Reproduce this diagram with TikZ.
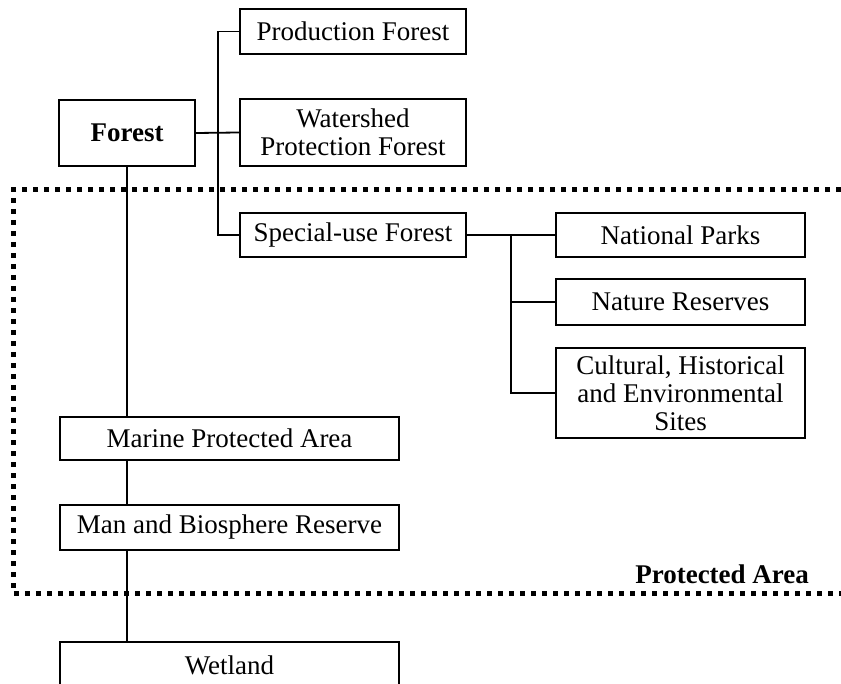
\documentclass[tikz,border=0pt]{standalone}
\usepackage{fontspec}
\setmainfont{Liberation Serif}
\usetikzlibrary{calc}

% one drawing unit = 0.5pt
\tikzset{
  x=0.5pt, y=-0.5pt,
  box/.style={draw, line width=1pt, rectangle, inner sep=0pt, align=center,
              font=\fontsize{13.5}{14}\selectfont},
  link/.style={draw, line width=0.9pt},
  zone/.style={line width=2.5pt, dash pattern=on 2.5pt off 3pt},
}

\begin{document}
\begin{tikzpicture}
\useasboundingbox (0,0) rectangle (841,684);
\clip (0,0) rectangle (841,684);

% forest classification
\node[box, minimum width=68pt, minimum height=33pt, font=\fontsize{13.5}{14}\selectfont\bfseries]
  (forest) at (127,133) {Forest};
\node[box, minimum width=113pt, minimum height=22.5pt] (prod) at (353,31.5) {Production Forest};
\node[box, minimum width=113pt, minimum height=33.5pt] (water) at (353,132.5) {Watershed\\Protection Forest};
\node[box, minimum width=113pt, minimum height=22pt] (special) at (353,235) {Special-use Forest};

% special-use categories
\node[box, minimum width=124.5pt, minimum height=22pt] (np) at (680.5,235) {National Parks};
\node[box, minimum width=124.5pt, minimum height=23pt] (nr) at (680.5,302) {Nature Reserves};
\node[box, minimum width=124.5pt, minimum height=45pt] (chs) at (680.5,393) {Cultural, Historical\\and Environmental\\Sites};

% other protected areas
\node[box, minimum width=169.5pt, minimum height=21.5pt] (marine) at (229.5,438.5) {Marine Protected Area};
\node[box, minimum width=169.5pt, minimum height=22.5pt] (mab) at (229.5,527) {Man and Biosphere Reserve};
\node[box, minimum width=169.5pt, minimum height=23pt] (wet) at (229.5,665) {Wetland};

% protected area zone
\draw[zone] (841,190) -- (13,190) -- (13,593) -- (841,593);
\node[anchor=east, font=\fontsize{13.5}{14}\selectfont\bfseries] (pa) at (816,574) {Protected Area};

% connectors
\coordinate (spine) at (218,0);
\draw[link] (forest.east) -- (water.west);
\draw[link] (prod.west) -- (spine |- prod.west) -- (spine |- special.west) -- (special.west);
\coordinate (fork) at ($(special.east)!0.5!(np.west)$);
\draw[link] (special.east) -- (np.west);
\draw[link] (fork) |- (chs.west);
\draw[link] (fork |- nr.west) -- (nr.west);
\draw[link] (forest.south) -- (forest.south |- marine.north);
\draw[link] (forest.south |- marine.south) -- (forest.south |- mab.north);
\draw[link] (forest.south |- mab.south) -- (forest.south |- wet.north);
\end{tikzpicture}
\end{document}
